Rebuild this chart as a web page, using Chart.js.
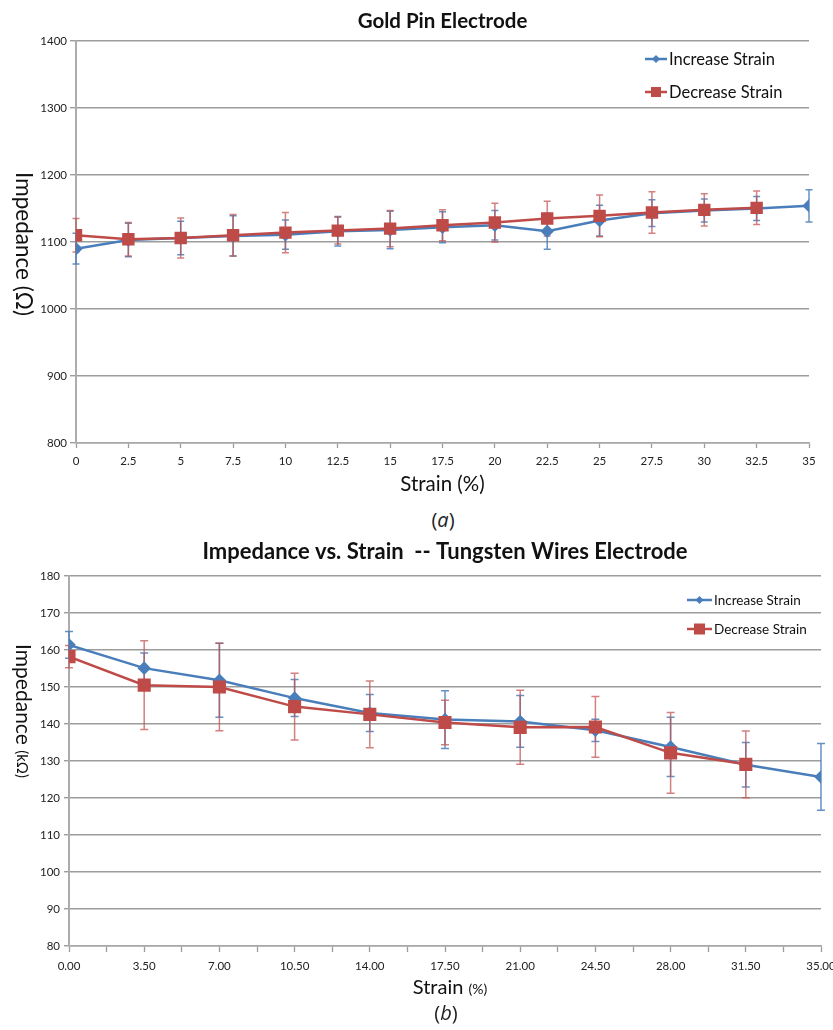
<!DOCTYPE html>
<html><head><meta charset="utf-8">
<script src="https://cdn.jsdelivr.net/npm/chart.js@4.4.1/dist/chart.umd.min.js"></script>
<style>
html,body{margin:0;padding:0;background:#fff;width:833px;height:1030px;overflow:hidden;}
#wa{position:absolute;left:0;top:0;width:833px;height:500px;}
#wb{position:absolute;left:0;top:530px;width:833px;height:500px;}
.cap{position:absolute;font-family:'Open Sans',Arial,sans-serif;font-size:20px;line-height:26px;color:#222;width:100px;text-align:center;}
</style></head><body>
<div id="wa"><canvas id="ca" width="833" height="500"></canvas></div>
<div class="cap" style="left:393px;top:507px;">(<i>a</i>)</div>
<div id="wb"><canvas id="cb" width="833" height="500"></canvas></div>
<div class="cap" style="left:396px;top:1000px;">(<i>b</i>)</div>
<script>
// ---------- Chart (a): Gold Pin Electrode ----------
const strainA     = [0, 2.5, 5, 7.5, 10, 12.5, 15, 17.5, 20, 22.5, 25, 27.5, 30, 32.5, 35];
const incA        = [1090, 1103, 1106, 1109, 1111, 1116, 1118, 1122, 1125, 1116, 1132, 1143, 1147, 1150, 1154];
const incAErr     = [23, 25, 25, 30, 22, 22, 28, 23, 22, 27, 23, 20, 17, 18, 24];
const strainADec  = [0, 2.5, 5, 7.5, 10, 12.5, 15, 17.5, 20, 22.5, 25, 27.5, 30, 32.5];
const decA        = [1110, 1104, 1106, 1110, 1114, 1117, 1120, 1125, 1129, 1135, 1139, 1144, 1148, 1151];
const decAErr     = [25, 25, 30, 31, 30, 20, 27, 23, 29, 26, 31, 31, 24, 25];
const xTicksA     = ['0','2.5','5','7.5','10','12.5','15','17.5','20','22.5','25','27.5','30','32.5','35'];
const yTicksA     = ['800','900','1000','1100','1200','1300','1400'];

// ---------- Chart (b): Tungsten Wires Electrode ----------
const strainB     = [0, 3.5, 7, 10.5, 14, 17.5, 21, 24.5, 28, 31.5, 35];
const incB        = [161.4, 155.1, 151.8, 147.0, 143.0, 141.2, 140.7, 138.3, 133.8, 129.0, 125.7];
const incBErr     = [3.6, 4.1, 10, 5, 5, 7.8, 7, 3, 8, 6, 9];
const strainBDec  = [0, 3.5, 7, 10.5, 14, 17.5, 21, 24.5, 28, 31.5];
const decB        = [158.2, 150.5, 150.0, 144.7, 142.6, 140.4, 139.1, 139.2, 132.2, 129.1];
const decBErr     = [3, 12, 11.8, 9, 9, 6, 10, 8.2, 10.9, 9];
const xTicksB     = ['0.00','3.50','7.00','10.50','14.00','17.50','21.00','24.50','28.00','31.50','35.00'];
const yTicksB     = ['80','90','100','110','120','130','140','150','160','170','180'];

const seriesNames = ['Increase Strain', 'Decrease Strain'];
const BLUE = '#4a7ebb', RED = '#be4b48';
const BLUE_ERR = 'rgba(74,126,187,0.85)', RED_ERR = 'rgba(192,80,77,0.72)';
const FONT = 'Lato, "Open Sans", sans-serif';

function pts(xs, ys){ return xs.map((x,i)=>({x:x, y:ys[i]})); }

const errorBars = {
  id:'errorBars',
  beforeDatasetsDraw(chart){
    const ctx = chart.ctx, xs = chart.scales.x, ys = chart.scales.y;
    const cap = chart.options.plugins.errorBars.cap;
    chart.data.datasets.forEach(ds=>{
      if(!ds.errors) return;
      ctx.save();
      ctx.strokeStyle = ds.errorColor; ctx.lineWidth = 1.5;
      ds.data.forEach((p,j)=>{
        const e = ds.errors[j];
        const x = xs.getPixelForValue(p.x);
        const y1 = ys.getPixelForValue(p.y - e), y2 = ys.getPixelForValue(p.y + e);
        ctx.beginPath();
        ctx.moveTo(x,y1); ctx.lineTo(x,y2);
        ctx.moveTo(x-cap,y1); ctx.lineTo(x+cap,y1);
        ctx.moveTo(x-cap,y2); ctx.lineTo(x+cap,y2);
        ctx.stroke();
      });
      ctx.restore();
    });
  }
};

const customLegend = {
  id:'customLegend',
  afterDraw(chart){
    const o = chart.options.plugins.customLegend;
    const ctx = chart.ctx;
    ctx.save();
    chart.data.datasets.forEach((ds,i)=>{
      const y = o.y[i];
      ctx.strokeStyle = ds.borderColor; ctx.lineWidth = 2.5;
      ctx.beginPath(); ctx.moveTo(o.x, y); ctx.lineTo(o.x + o.len, y); ctx.stroke();
      const cx = o.x + o.len/2;
      ctx.fillStyle = ds.borderColor;
      ctx.beginPath();
      if (ds.pointStyle === 'rect'){
        ctx.rect(cx - o.sq, y - o.sq, 2*o.sq, 2*o.sq);
      } else {
        ctx.moveTo(cx, y - o.dm); ctx.lineTo(cx + o.dm, y); ctx.lineTo(cx, y + o.dm); ctx.lineTo(cx - o.dm, y); ctx.closePath();
      }
      ctx.fill();
      ctx.fillStyle = '#111';
      ctx.font = o.size + 'px ' + FONT;
      ctx.textBaseline = 'middle'; ctx.textAlign = 'left';
      ctx.fillText(seriesNames[i], o.x + o.len + 2, y + 1);
    });
    ctx.restore();
  }
};

// axis titles drawn rotated clockwise (reading top to bottom) as in the reference
const axisTitles = {
  id:'axisTitles',
  afterDraw(chart){
    const o = chart.options.plugins.axisTitles;
    const ctx = chart.ctx;
    ctx.save();
    ctx.fillStyle = '#111';
    ctx.textBaseline = 'middle'; ctx.textAlign = 'left';
    let w = 0;
    o.yParts.forEach(p=>{ ctx.font = p.size + 'px ' + FONT; w += ctx.measureText(p.text).width; });
    ctx.translate(o.yX, o.yY);
    ctx.rotate(Math.PI/2);
    let cur = -w/2;
    o.yParts.forEach(p=>{ ctx.font = p.size + 'px ' + FONT; ctx.fillText(p.text, cur, p.dy||0); cur += ctx.measureText(p.text).width; });
    ctx.setTransform(1,0,0,1,0,0);
    if (o.xParts){
      w = 0;
      o.xParts.forEach(p=>{ ctx.font = p.size + 'px ' + FONT; w += ctx.measureText(p.text).width; });
      cur = o.xX - w/2;
      ctx.textBaseline = 'alphabetic';
      o.xParts.forEach(p=>{ ctx.font = p.size + 'px ' + FONT; ctx.fillText(p.text, cur, o.xY); cur += ctx.measureText(p.text).width; });
    }
    ctx.restore();
  }
};

Chart.register(errorBars, customLegend, axisTitles);

const GRID = '#9c9c9c';
const TICKFONT = { family:FONT, size:11.5 };

new Chart(document.getElementById('ca'), {
  type:'line',
  data:{ datasets:[
    { label:seriesNames[0], data:pts(strainA, incA), errors:incAErr, errorColor:BLUE_ERR,
      borderColor:BLUE, backgroundColor:BLUE, borderWidth:2.5, pointStyle:'rectRot', pointRadius:5, tension:0, order:1 },
    { label:seriesNames[1], data:pts(strainADec, decA), errors:decAErr, errorColor:RED_ERR,
      borderColor:RED, backgroundColor:RED, borderWidth:2.5, pointStyle:'rect', pointRadius:7, tension:0, order:0 }
  ]},
  options:{
    responsive:false, animation:false, devicePixelRatio:1,
    layout:{ padding:{ left:0, right:24, top:0, bottom:0 } },
    plugins:{
      legend:{ display:false }, tooltip:{ enabled:false },
      title:{ display:true, text:'Gold Pin Electrode', fullSize:false, color:'#111',
        font:{ family:FONT, size:20.5, weight:'bold' }, padding:{ top:8.7, bottom:7.7 } },
      errorBars:{ cap:3.5 },
      customLegend:{ x:645, len:22, y:[59, 92], size:16.5, sq:5, dm:4 },
      axisTitles:{ yX:23, yY:244, yParts:[{text:'Impedance (Ω)', size:22.5}] }
    },
    scales:{
      x:{ type:'linear', min:0, max:35,
        ticks:{ stepSize:2.5, autoSkip:false, maxRotation:0, padding:6, color:'#222', font:TICKFONT,
          callback:(v)=>{ const k = Math.round(v/2.5); return Math.abs(v - k*2.5) < 1e-6 ? xTicksA[k] : ''; } },
        grid:{ drawOnChartArea:false, drawTicks:true, tickLength:5, tickColor:GRID, tickWidth:1.3 },
        border:{ color:'#a8a8a8', width:1.5 },
        title:{ display:true, text:'Strain (%)', color:'#111', font:{ family:FONT, size:20.5 }, padding:{ top:0, bottom:3 } },
        afterFit:(s)=>{ s.height = 57; s.paddingLeft = 0; s.paddingRight = 0; } },
      y:{ type:'linear', min:800, max:1400,
        ticks:{ stepSize:100, padding:3, color:'#222', font:TICKFONT,
          callback:(v)=>{ const k = Math.round((v-800)/100); return yTicksA[k]; } },
        grid:{ color:GRID, lineWidth:1.4, tickLength:6 },
        border:{ color:'#acacac', width:2 },
        afterFit:(s)=>{ s.width = 76; s.paddingTop = 0; s.paddingBottom = 0; } }
    }
  }
});

new Chart(document.getElementById('cb'), {
  type:'line',
  data:{ datasets:[
    { label:seriesNames[0], data:pts(strainB, incB), errors:incBErr, errorColor:BLUE_ERR,
      borderColor:BLUE, backgroundColor:BLUE, borderWidth:2.5, pointStyle:'rectRot', pointRadius:5, tension:0, order:1 },
    { label:seriesNames[1], data:pts(strainBDec, decB), errors:decBErr, errorColor:RED_ERR,
      borderColor:RED, backgroundColor:RED, borderWidth:2.5, pointStyle:'rect', pointRadius:7.5, tension:0, order:0 }
  ]},
  options:{
    responsive:false, animation:false, devicePixelRatio:1,
    layout:{ padding:{ left:0, right:12, top:0, bottom:0 } },
    plugins:{
      legend:{ display:false }, tooltip:{ enabled:false },
      title:{ display:true, text:'Impedance vs. Strain  -- Tungsten Wires Electrode', fullSize:false, color:'#111',
        font:{ family:FONT, size:22, weight:'bold' }, padding:{ top:8.8, bottom:10.8 } },
      errorBars:{ cap:4 },
      customLegend:{ x:687, len:25, y:[70, 99], size:13.5, sq:5.5, dm:4 },
      axisTitles:{ yX:23, yY:181, yParts:[{text:'Impedance ', size:21},{text:'(kΩ)', size:15, dy:1}],
        xX:450, xY:464, xParts:[{text:'Strain ', size:20},{text:'(%)', size:14}] }
    },
    scales:{
      x:{ type:'linear', min:0, max:35,
        ticks:{ stepSize:1.75, autoSkip:false, maxRotation:0, padding:7, color:'#222', font:TICKFONT,
          callback:(v)=>{ const k = Math.round(v/3.5); return Math.abs(v - k*3.5) < 1e-6 ? xTicksB[k] : ''; } },
        grid:{ drawOnChartArea:false, drawTicks:true, tickLength:6, tickColor:GRID, tickWidth:1.3 },
        border:{ color:'#a8a8a8', width:1.5 },
        afterFit:(s)=>{ s.height = 84; s.paddingLeft = 0; s.paddingRight = 0; } },
      y:{ type:'linear', min:80, max:180,
        ticks:{ stepSize:10, padding:4, color:'#222', font:TICKFONT,
          callback:(v)=>{ const k = Math.round((v-80)/10); return yTicksB[k]; } },
        grid:{ color:GRID, lineWidth:1.4, tickLength:5 },
        border:{ color:'#acacac', width:2 },
        afterFit:(s)=>{ s.width = 69; s.paddingTop = 0; s.paddingBottom = 0; } }
    }
  }
});
</script>
</body></html>
